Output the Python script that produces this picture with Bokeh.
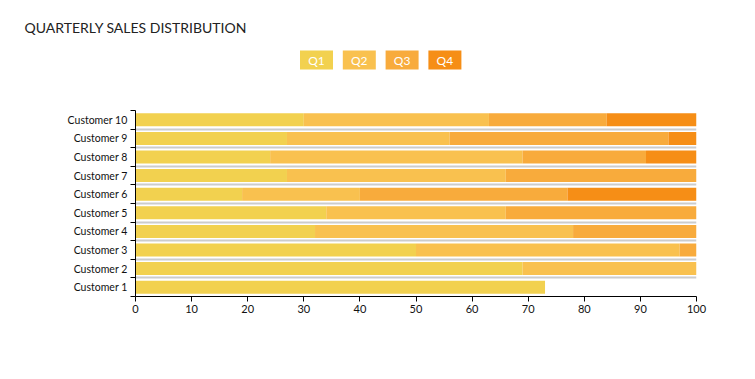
from bokeh.plotting import figure
from bokeh.layouts import column
from bokeh.models import Range1d, FixedTicker, ColumnDataSource
from bokeh.core.properties import value
from bokeh.embed import file_html
from bokeh.resources import INLINE

# ---- data ----
customers = ["Customer 1", "Customer 2", "Customer 3", "Customer 4", "Customer 5",
             "Customer 6", "Customer 7", "Customer 8", "Customer 9", "Customer 10"]
quarters = ["Q1", "Q2", "Q3", "Q4"]
q1 = [73, 69, 50, 32, 34, 19, 27, 24, 27, 30]
q2 = [0, 31, 47, 46, 32, 21, 39, 45, 29, 33]
q3 = [0, 0, 3, 22, 34, 37, 34, 22, 39, 21]
q4 = [0, 0, 0, 0, 0, 23, 0, 9, 5, 16]
x_ticks = [0, 10, 20, 30, 40, 50, 60, 70, 80, 90, 100]
title_text = "QUARTERLY SALES DISTRIBUTION"

# ---- styles ----
colors = ["#F2D14F", "#F9C14F", "#F8AB3C", "#F68E16"]
FONT = "Lato"
W = 747
HEAD_H = 106
LEFT, RIGHT = 135, 696
HEAD_TOP = 40

# ---- header (title + legend) ----
head = figure(width=W, height=HEAD_H, output_backend="svg", toolbar_location=None,
              x_range=Range1d(LEFT, RIGHT), y_range=Range1d(HEAD_H, HEAD_TOP),
              min_border_left=LEFT, min_border_right=W - RIGHT,
              min_border_top=HEAD_TOP, min_border_bottom=0,
              x_axis_type=None, y_axis_type=None)
head.outline_line_color = None
head.grid.visible = False
head.title.text = title_text
head.title.align = "left"
head.title.offset = 24 - LEFT
head.title.text_font = FONT
head.title.text_font_size = "14px"
head.title.text_font_style = "normal"
head.title.text_color = "#222222"

leg_src = ColumnDataSource(dict(
    x=[316 + 42.8 * i for i in range(len(quarters))],
    y=[59.5] * len(quarters), q=quarters, c=colors))
head.rect(x="x", y="y", width=33, height=19, fill_color="c", line_color=None,
          source=leg_src)
head.text(x="x", y="y", text="q", text_font=value(FONT), text_font_size="12px",
          text_color="#ffffff", text_align="center", text_baseline="middle",
          source=leg_src)

# ---- main chart ----
n = len(customers)
centers = [i + 0.5 for i in range(n)]
bounds = [i for i in range(n + 1)]
source = ColumnDataSource(dict(y=centers, Q1=q1, Q2=q2, Q3=q3, Q4=q4))

p = figure(width=W, height=371 - HEAD_H, output_backend="svg", toolbar_location=None,
           x_range=Range1d(0, 100), y_range=Range1d(0, n),
           min_border_left=LEFT, min_border_right=W - RIGHT, min_border_top=110 - HEAD_H,
           min_border_bottom=371 - 296)
p.outline_line_color = None

p.hbar_stack(quarters, y="y", height=0.7, color=colors, line_color=None,
             source=source)

xa = p.xaxis[0]
xa.ticker = FixedTicker(ticks=x_ticks, minor_ticks=[])
xa.axis_line_color = "#000000"
xa.major_tick_line_color = "#000000"
xa.major_tick_in = 0
xa.major_tick_out = 5
xa.minor_tick_line_color = None
xa.major_label_text_font = FONT
xa.major_label_text_font_size = "11px"
xa.major_label_text_color = "#111111"
xa.major_label_standoff = 3

ya = p.yaxis[0]
ya.ticker = FixedTicker(ticks=centers, minor_ticks=bounds)
ya.major_label_overrides = {c: name for c, name in zip(centers, customers)}
ya.axis_line_color = "#000000"
ya.major_tick_line_color = None
ya.major_tick_in = 0
ya.major_tick_out = 0
ya.minor_tick_line_color = "#000000"
ya.minor_tick_in = 0
ya.minor_tick_out = 5
ya.major_label_text_font = FONT
ya.major_label_text_font_size = "10.5px"
ya.major_label_text_color = "#111111"
ya.major_label_standoff = 3

p.xgrid.grid_line_color = None
p.ygrid.grid_line_color = None
p.ygrid.minor_grid_line_color = "#cccccc"
p.ygrid.minor_grid_line_width = 2

layout = column(head, p, spacing=0)
open("out.html", "w").write(file_html(layout, INLINE))
